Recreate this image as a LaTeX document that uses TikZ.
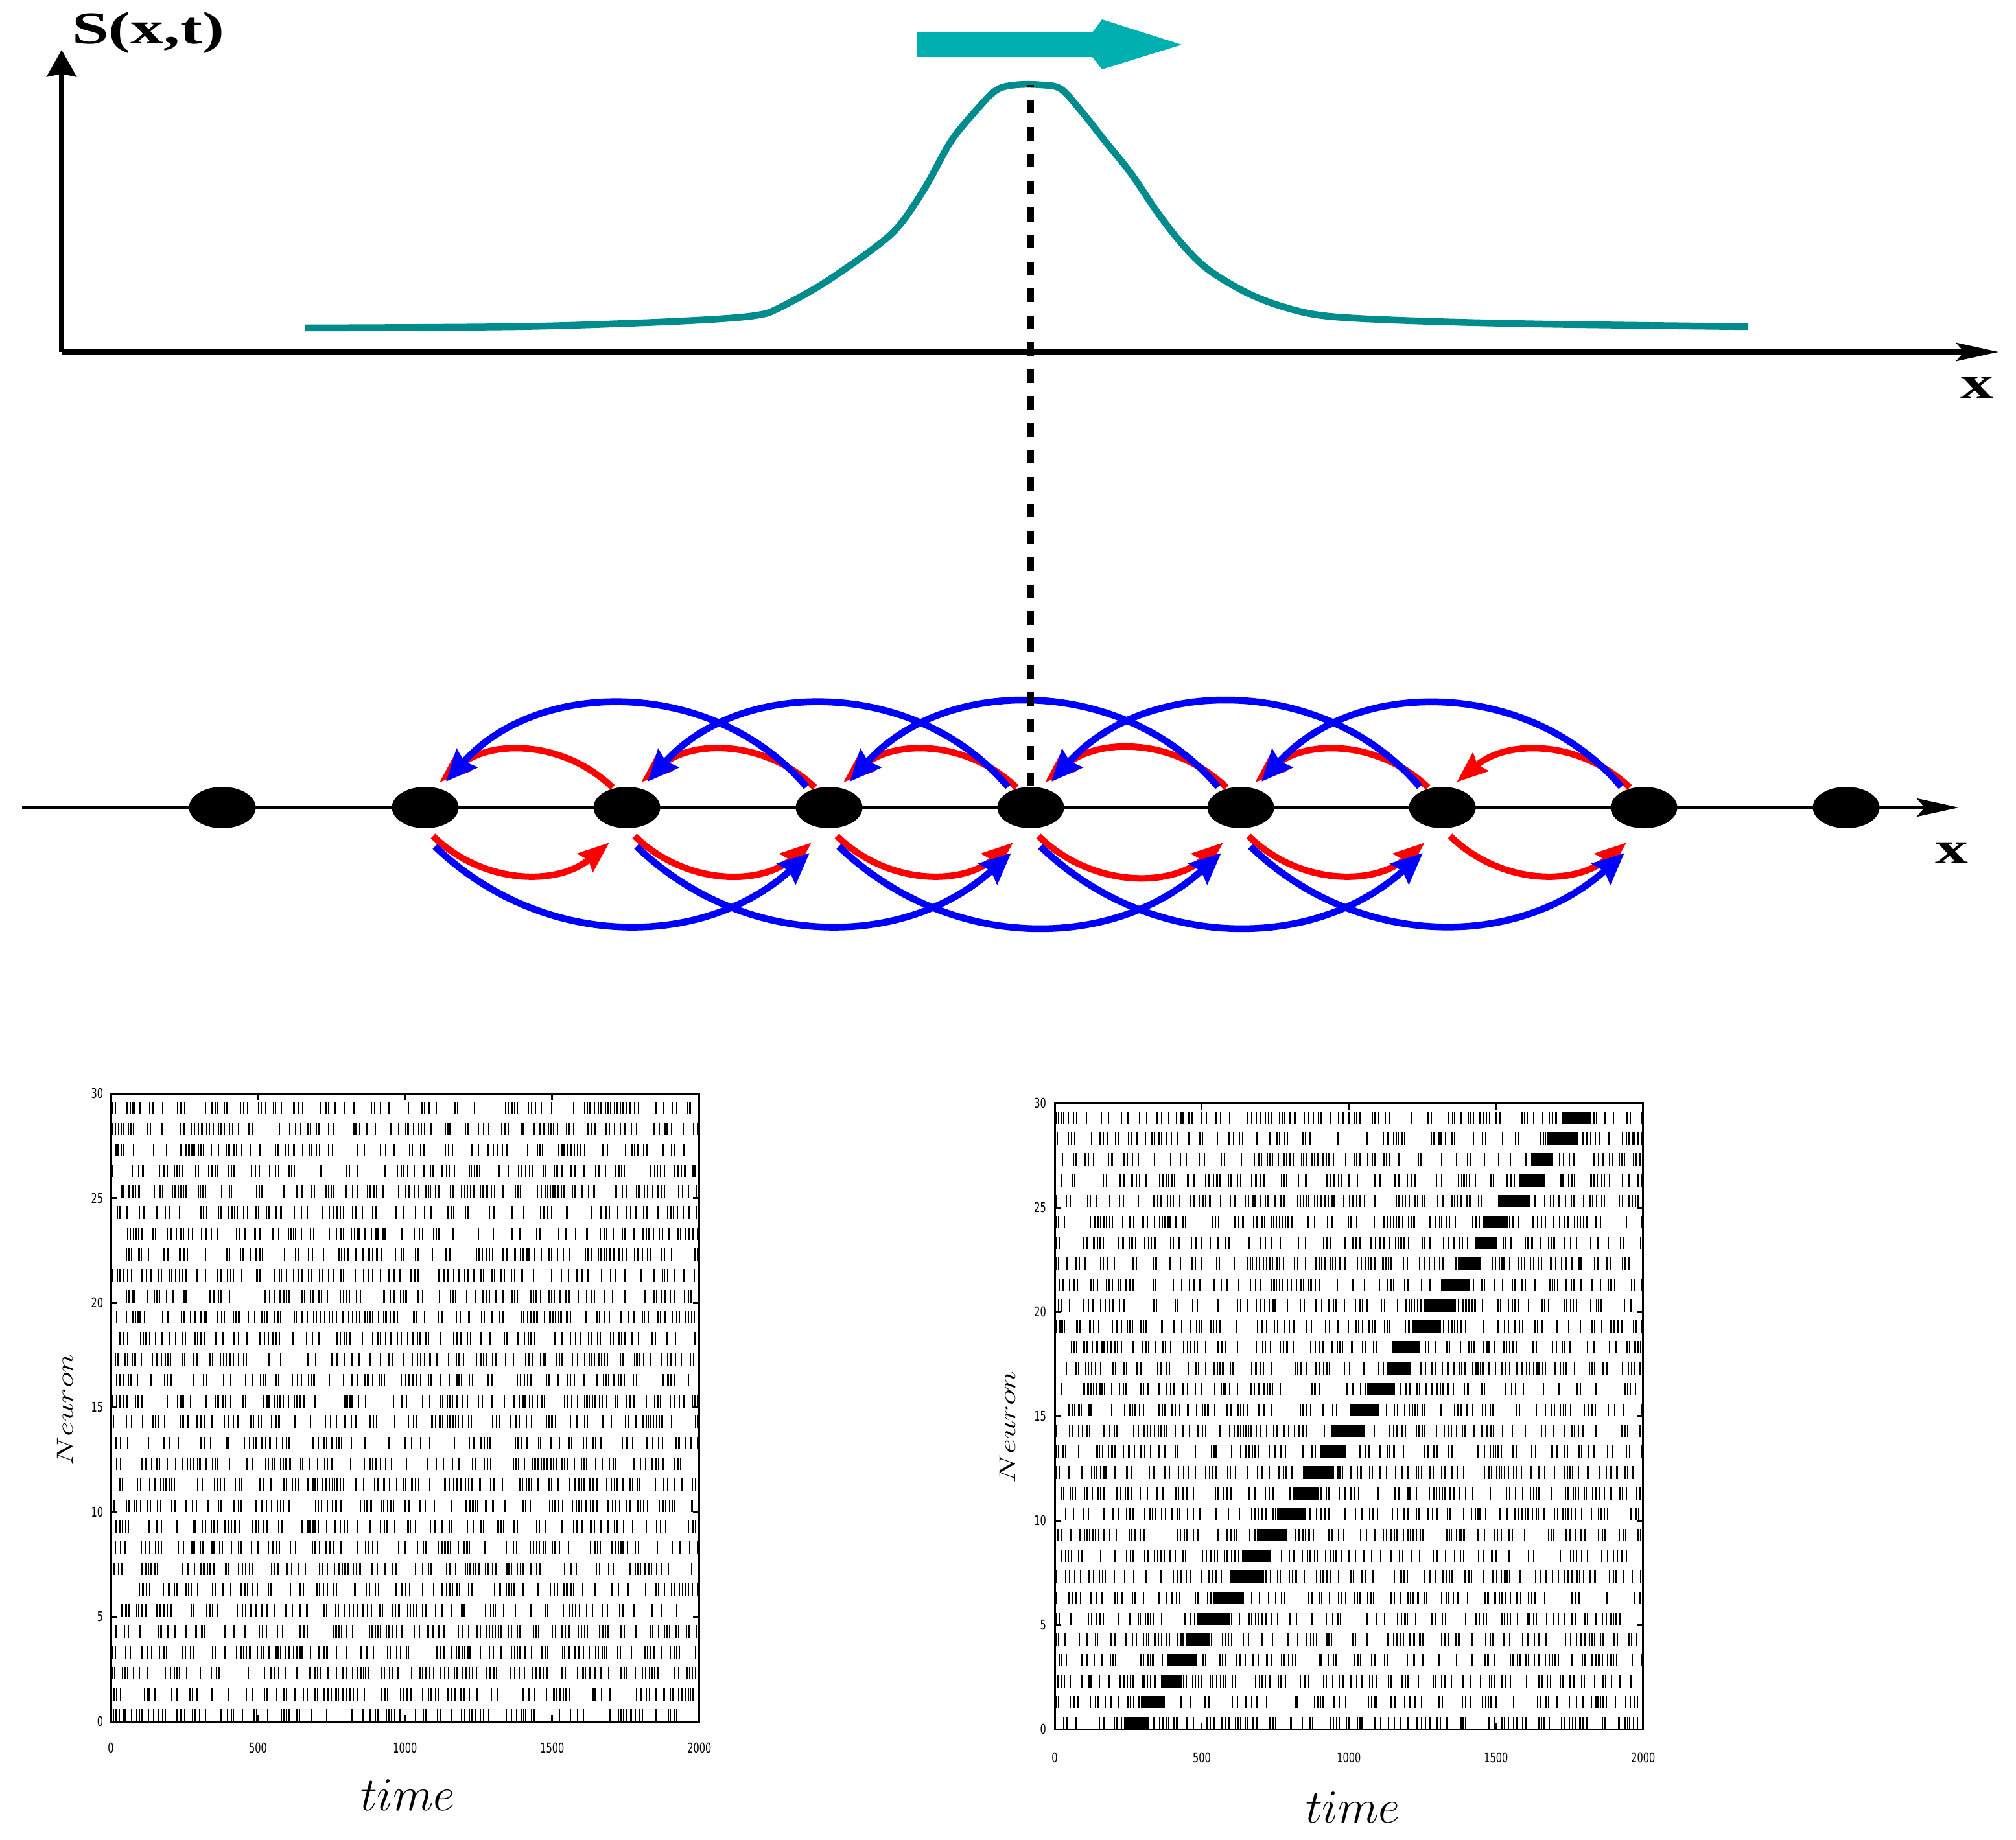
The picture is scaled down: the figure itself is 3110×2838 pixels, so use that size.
\documentclass[tikz,border=0pt]{standalone}
\usepackage{fontspec}
\setmainfont{Liberation Serif}
\newfontfamily\tickfont{DejaVu Sans}
\usetikzlibrary{arrows.meta,shapes.geometric,calc}
\definecolor{curveteal}{RGB}{0,140,140}
\definecolor{arrowteal}{RGB}{0,176,176}
\tikzset{
  axisline/.style={line width=0.85mm},
  ytip/.style={-{Stealth[length=4.1mm,width=4.5mm,inset=0.4mm]}},
  xtip/.style={-{Stealth[length=6.5mm,width=2.8mm,inset=1.2mm]}},
  toplabel/.style={font=\bfseries\fontsize{20}{24}\selectfont, xscale=1.45, inner sep=0pt},
  neuron/.style={ellipse, fill=black, minimum width=10.3mm, minimum height=6.4mm, inner sep=0pt},
  redarc/.style={draw=red, line width=1mm, -{Stealth[length=4.8mm,width=3.6mm,inset=0.6mm]}},
  bluearc/.style={draw=blue, line width=1.05mm, -{Stealth[length=4.8mm,width=4.2mm,inset=0.6mm]}},
  dashline/.style={line width=1mm, dash pattern=on 2.1mm off 2.05mm, dash phase=1.8mm},
  spike/.style={line width=0.21mm},
  frame/.style={line width=0.3mm},
  ticklab/.style={font=\tickfont\fontsize{5.9}{7}\selectfont, xscale=0.7, inner sep=0pt},
  axlab/.style={font=\fontsize{20}{24}\selectfont, inner sep=0pt},
  neurlab/.style={font=\fontsize{13.5}{16}\selectfont, inner sep=0pt, rotate=90, yscale=0.7},
}
\begin{document}
\begin{tikzpicture}[x=0.1mm, y=-0.1mm]
\useasboundingbox (0,0) rectangle (3110,2838);
\fill[white] (0,0) rectangle (3110,2838);
\pgfmathsetseed{4242}

% ---------- top graph ----------
\coordinate (origin) at (95,543);
\coordinate (ytop) at (95,77);
\coordinate (xend) at (3083,543);
\draw[axisline, ytip] (origin) -- (ytop);
\draw[line width=0.75mm, xtip] (origin) -- (xend);
\node[toplabel, anchor=base west] (slab) at (110,68) {S(x,t)};
\node[toplabel, anchor=base] (xlab1) at (3050,614) {x};

\fill[arrowteal] (1415,50) -- (1685,50) -- (1700,30) -- (1823,69) -- (1700,107) -- (1685,88) -- (1415,88) -- cycle;

\draw[curveteal, line width=1.05mm, line join=round, line cap=butt] plot[smooth, tension=0.55] coordinates {
 (470,506) (793,504) (992,498) (1110,492) (1170,486) (1200,476) (1269,438) (1348,383) (1388,347)
 (1428,288) (1467,218) (1507,169) (1537,139) (1567,131) (1606,131) (1636,137) (1666,169)
 (1705,218) (1745,268) (1785,327) (1824,377) (1864,416) (1924,452) (1985,475) (2050,488)
 (2181,495) (2380,500) (2697,504)};

% ---------- chain of neurons ----------
\coordinate (lstart) at (34,1246);
\coordinate (lend) at (3022,1246);
\draw[line width=0.6mm, xtip] (lstart) -- (lend);
\node[toplabel, anchor=base] (xlab2) at (3011,1332) {x};

\foreach \k/\xx in {0/343,1/656,2/967,3/1279,4/1590,5/1914,6/2225,7/2536,8/2848}
  \node[neuron] (n\k) at (\xx,1246) {};

% red arcs above: i -> i-1
\foreach \i [evaluate=\i as \j using int(\i-1)] in {2,...,7}
  \draw[redarc] ($(n\i)+(-22,-31)$) to[bend right=42] ($(n\j)+(22,-39)$);
% red arcs below: i -> i+1
\foreach \i [evaluate=\i as \j using int(\i+1)] in {1,...,6}
  \draw[redarc] ($(n\i)+(12,44)$) to[bend right=42] ($(n\j)+(-27,54)$);
% blue arcs above: i -> i-2
\foreach \i [evaluate=\i as \j using int(\i-2)] in {3,...,7}
  \draw[bluearc] ($(n\i)+(-35,-32)$) to[bend right=49] ($(n\j)+(32,-40)$);
% blue arcs below: i -> i+2
\foreach \i [evaluate=\i as \j using int(\i+2)] in {1,...,5}
  \draw[bluearc] ($(n\i)+(15,60)$) to[bend right=43] ($(n\j)+(-30,70)$);

\coordinate (peak) at (1590,131);
\draw[dashline] (peak) -- (n4);

% ---------- left raster ----------
\begin{scope}[shift={(171,2656)}, x=0.0454mm, y=3.23mm]
  \foreach \r in {0,...,29}{
    \gdef\lastspk{-5}
    \foreach \k in {1,...,200}{
      \pgfmathsetmacro\spk{\lastspk+8+120*rnd*rnd*rnd}
      \global\let\lastspk\spk
      \ifdim\spk pt<2000pt
        \draw[spike] (\spk,\r) -- ++(0,0.6);
      \else
        \breakforeach
      \fi
    }
  }
  \draw[frame] (0,0) rectangle (2000,30);
  \foreach \v in {0,5,...,30}{
    \draw[frame] (0,\v) -- (22,\v);
    \draw[frame] (2000,\v) -- (1978,\v);
    \node[ticklab, anchor=east] at (-25,\v) {\v};
  }
  \foreach \v in {0,500,...,2000}{
    \draw[frame] (\v,0) -- (\v,0.3);
    \draw[frame] (\v,30) -- (\v,29.7);
    \node[ticklab] at (\v,-1.27) {\v};
  }
\end{scope}
\node[axlab, anchor=base] (time1) at (629,2793) {$time$};
\node[neurlab] (neur1) at (100,2175) {$Neuron$};

% ---------- right raster ----------
\begin{scope}[shift={(1627,2668)}, x=0.0454mm, y=3.22mm]
  \foreach \r in {0,...,29}{
    \gdef\lastspk{-5}
    \foreach \k in {1,...,200}{
      \pgfmathsetmacro\spk{\lastspk+8+120*rnd*rnd*rnd}
      \global\let\lastspk\spk
      \ifdim\spk pt<2000pt
        \draw[spike] (\spk,\r) -- ++(0,0.6);
      \else
        \breakforeach
      \fi
    }
    \pgfmathsetmacro\tc{290+51*\r+30*(rnd-0.5)}
    \pgfmathsetmacro\hw{34+24*rnd}
    \fill (\tc-\hw,\r) rectangle (\tc+\hw,\r+0.6);
  }
  \draw[frame] (0,0) rectangle (2000,30);
  \foreach \v in {0,5,...,30}{
    \draw[frame] (0,\v) -- (22,\v);
    \draw[frame] (2000,\v) -- (1978,\v);
    \node[ticklab, anchor=east] at (-28,\v) {\v};
  }
  \foreach \v in {0,500,...,2000}{
    \draw[frame] (\v,0) -- (\v,0.3);
    \draw[frame] (\v,30) -- (\v,29.7);
    \node[ticklab] at (\v,-1.37) {\v};
  }
\end{scope}
\node[axlab, anchor=base] (time2) at (2087,2812) {$time$};
\node[neurlab] (neur2) at (1554,2202) {$Neuron$};
\end{tikzpicture}
\end{document}
